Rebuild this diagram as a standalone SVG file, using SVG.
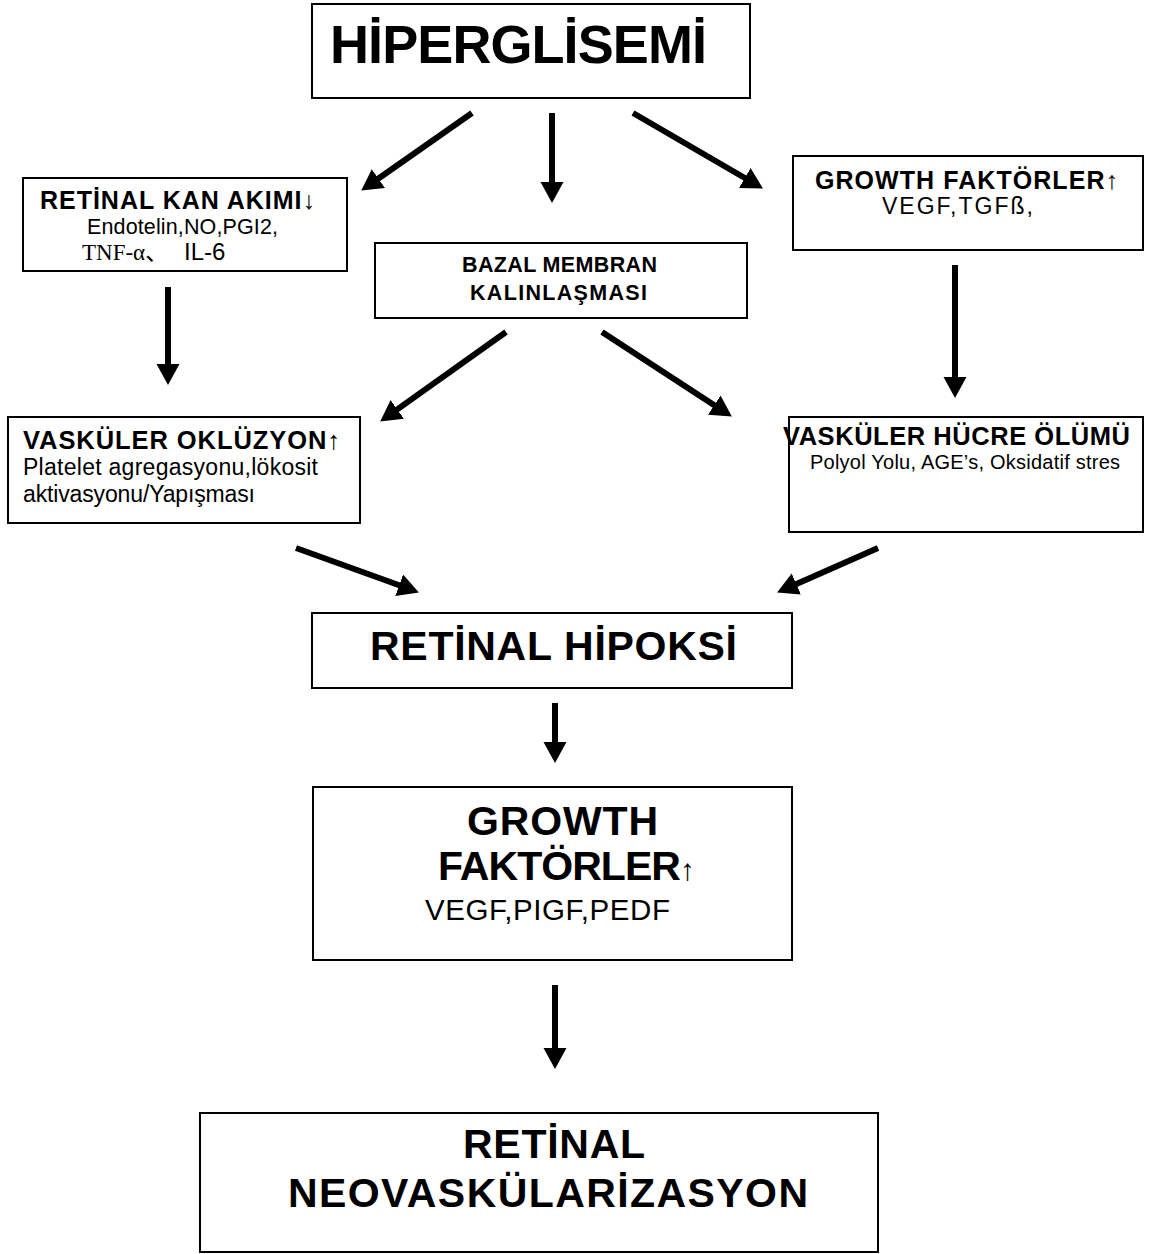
<svg xmlns="http://www.w3.org/2000/svg" width="1157" height="1254" viewBox="0 0 1157 1254">
<style>
.box{fill:#fff;stroke:#000;stroke-width:2}
text{font-family:"Liberation Sans",Arial,"Noto Sans CJK JP",sans-serif;fill:#000}
.b{font-weight:bold}
.serif{font-family:"Liberation Serif","Times New Roman","Noto Sans CJK JP",serif}
.conn line{stroke:#000;stroke-width:6;marker-end:url(#ah)}
</style>
<defs>
<marker id="ah" markerUnits="userSpaceOnUse" markerWidth="22" markerHeight="24" refX="6" refY="11.5" orient="auto">
<path d="M0,0 L21,11.5 L0,23 z" fill="#000"/>
</marker>
</defs>
<rect width="1157" height="1254" fill="#fff"/>

<g id="hiperglisemi">
<rect class="box" x="312" y="4" width="438" height="94"/>
<text class="b" x="330" y="63" font-size="54" textLength="377" lengthAdjust="spacing">HİPERGLİSEMİ</text>
</g>

<g id="retinal-kan-akimi">
<rect class="box" x="23" y="178" width="324" height="93"/>
<text class="b" x="40" y="209" font-size="25" textLength="275" lengthAdjust="spacing">RETİNAL KAN AKIMI↓</text>
<text x="87" y="234" font-size="21.5" textLength="191" lengthAdjust="spacing">Endotelin,NO,PGI2,</text>
<text y="260"><tspan class="serif" x="82" font-size="23">TNF-α、</tspan><tspan x="184" font-size="24">IL-6</tspan></text>
</g>

<g id="growth-faktorler-top">
<rect class="box" x="793" y="156" width="350" height="94"/>
<text class="b" x="815" y="189" font-size="25" textLength="303" lengthAdjust="spacing">GROWTH FAKTÖRLER↑</text>
<text x="882" y="214" font-size="23" textLength="151" lengthAdjust="spacing">VEGF,TGFß,</text>
</g>

<g id="bazal-membran">
<rect class="box" x="375" y="243" width="372" height="75"/>
<text class="b" x="462" y="272" font-size="21.5" textLength="195" lengthAdjust="spacing">BAZAL MEMBRAN</text>
<text class="b" x="470" y="300" font-size="21.5" textLength="177" lengthAdjust="spacing">KALINLAŞMASI</text>
</g>

<g id="vaskuler-okluzyon">
<rect class="box" x="8" y="417" width="352" height="106"/>
<text class="b" x="23" y="449" font-size="25.5" textLength="317" lengthAdjust="spacing">VASKÜLER OKLÜZYON↑</text>
<text x="23" y="475" font-size="23" textLength="295" lengthAdjust="spacing">Platelet agregasyonu,lökosit</text>
<text x="23" y="502" font-size="23" textLength="232" lengthAdjust="spacing">aktivasyonu/Yapışması</text>
</g>

<g id="vaskuler-hucre-olumu">
<rect class="box" x="789" y="417" width="354" height="115"/>
<text class="b" x="783" y="445" font-size="25.5" textLength="347" lengthAdjust="spacing">VASKÜLER HÜCRE ÖLÜMÜ</text>
<text x="810" y="469" font-size="20" textLength="310" lengthAdjust="spacing">Polyol Yolu, AGE’s, Oksidatif stres</text>
</g>

<g id="retinal-hipoksi">
<rect class="box" x="312" y="613" width="480" height="75"/>
<text class="b" x="370" y="660" font-size="41" textLength="367" lengthAdjust="spacing">RETİNAL HİPOKSİ</text>
</g>

<g id="growth-faktorler">
<rect class="box" x="313" y="787" width="479" height="173"/>
<text class="b" x="467" y="835" font-size="41" textLength="191" lengthAdjust="spacing">GROWTH</text>
<text class="b" x="438" y="880" font-size="41" textLength="257" lengthAdjust="spacing">FAKTÖRLER<tspan font-size="30">↑</tspan></text>
<text x="425" y="920" font-size="29.5" textLength="245" lengthAdjust="spacing">VEGF,PIGF,PEDF</text>
</g>

<g id="retinal-neovaskularizasyon">
<rect class="box" x="200" y="1113" width="678" height="139"/>
<text class="b" x="463" y="1158" font-size="41" textLength="182" lengthAdjust="spacing">RETİNAL</text>
<text class="b" x="288" y="1207" font-size="41" textLength="520" lengthAdjust="spacing">NEOVASKÜLARİZASYON</text>
</g>

<g id="connectors" class="conn">
<line x1="472" y1="113" x2="373.5" y2="182"/>
<line x1="552" y1="113" x2="552" y2="188"/>
<line x1="633" y1="113" x2="750" y2="181"/>
<line x1="168" y1="287" x2="168" y2="370"/>
<line x1="506" y1="332" x2="392.4" y2="412.9"/>
<line x1="602" y1="332" x2="719.3" y2="408.4"/>
<line x1="955" y1="265" x2="955" y2="383"/>
<line x1="296" y1="548" x2="404.8" y2="587.3"/>
<line x1="878" y1="548" x2="790.8" y2="586.4"/>
<line x1="555" y1="703" x2="555" y2="748"/>
<line x1="555" y1="985" x2="555" y2="1054"/>
</g>
</svg>
